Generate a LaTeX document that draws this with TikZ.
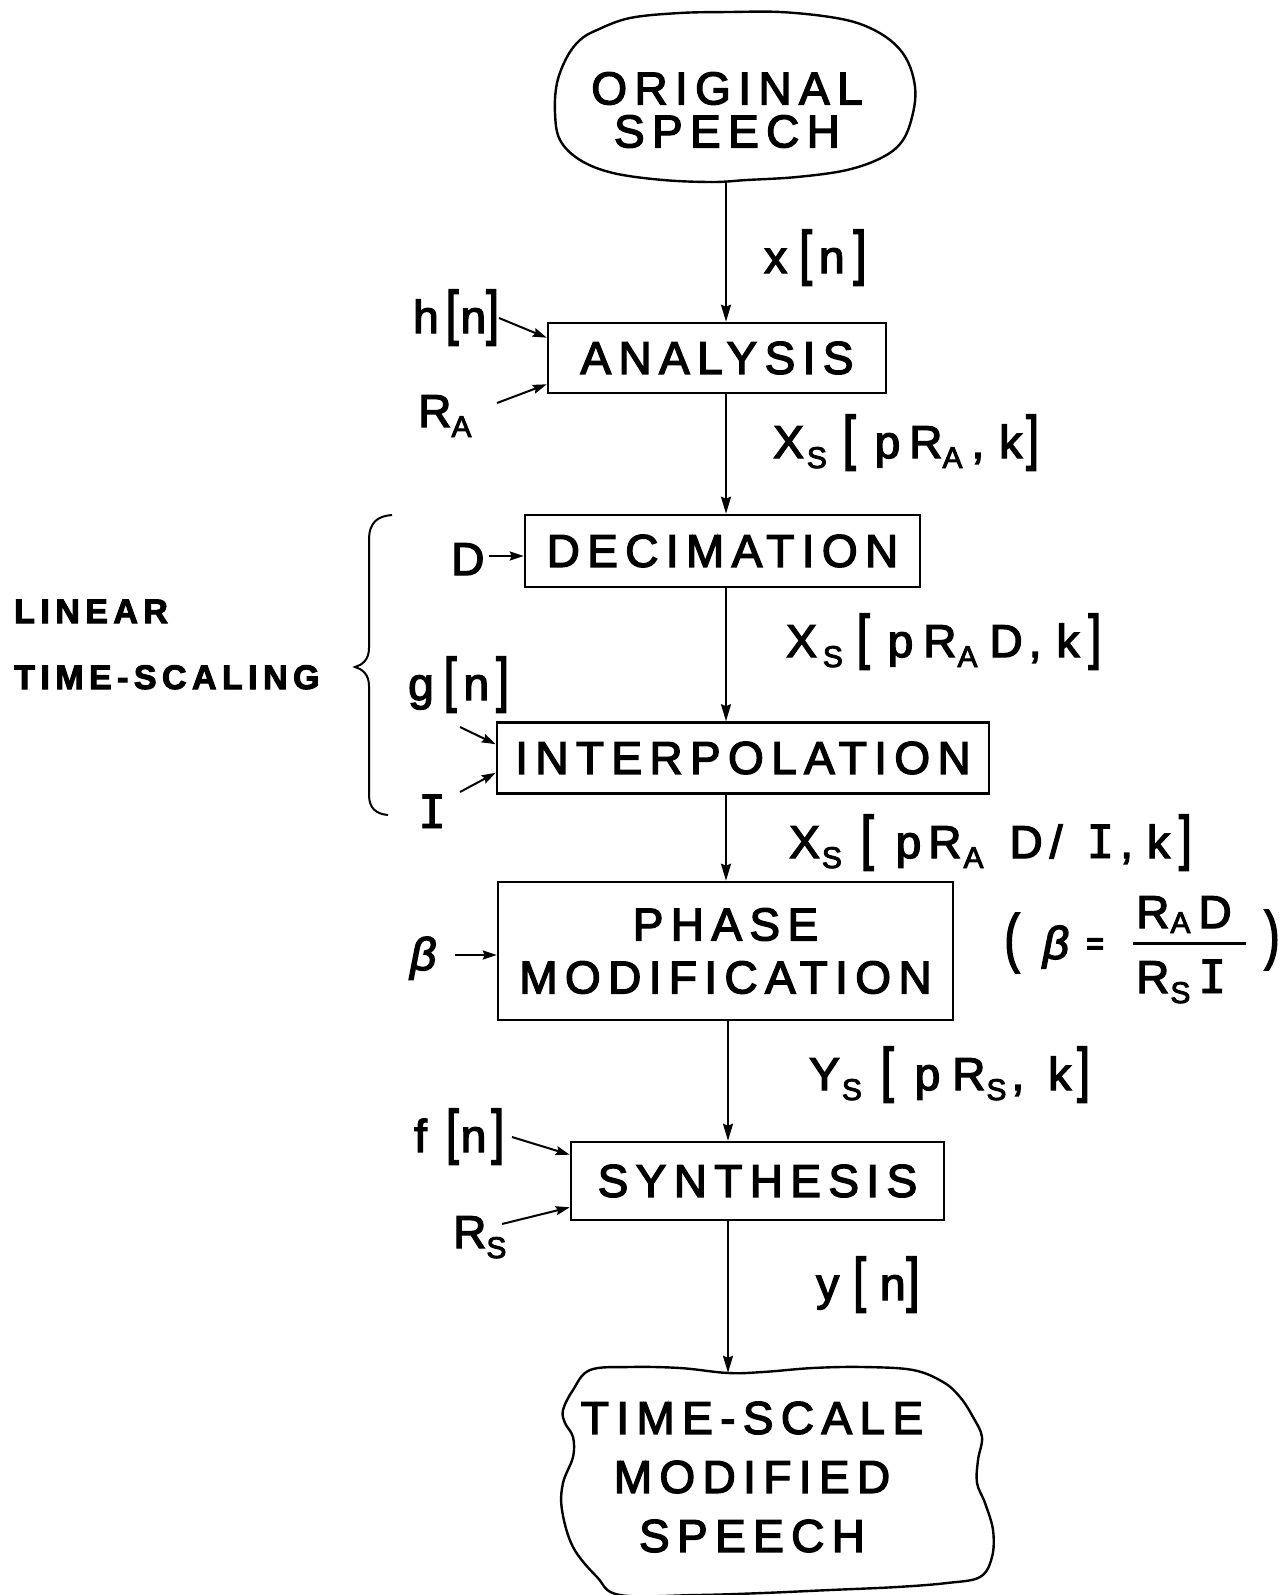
\documentclass[tikz,border=0pt]{standalone}
\usepackage{graphicx}
\usepackage{fontspec}
\setmainfont{Liberation Sans}[LetterSpace=16, FakeBold=3]
\newfontfamily\labfont{Liberation Sans}[FakeBold=3]
\newfontfamily\monoI{DejaVu Sans Mono}[FakeBold=2]
\usetikzlibrary{arrows.meta,calc}

% tall brackets, subscripts, gaps and the serifed letter I
\newcommand\lbk{\scalebox{1}[1.3]{[}}
\newcommand\rbk{\scalebox{1}[1.3]{]}}
\newcommand\sbs[2][10pt]{\raisebox{-#1}{\fontsize{30}{30}\selectfont #2}}
\newcommand\gap[1]{\hspace{#1pt}}
\newcommand\Ii{{\monoI I}}
\newcommand\bigfont{\fontsize{46}{52}\selectfont}
\newcommand\labsize{\labfont\fontsize{46}{52}\selectfont}

\tikzset{
  box/.style={draw, line width=2.6pt, rectangle, inner sep=0pt, font=\bigfont},
  lbl/.style={inner sep=0pt, anchor=base west, font=\labsize},
  flow/.style={line width=2pt, -{Stealth[length=17pt,width=10pt,inset=2pt]}},
  side/.style={line width=2pt, -{Stealth[length=14pt,width=9pt,inset=2pt]}},
  blob/.style={line width=2.4pt, line join=round},
  sidetext/.style={anchor=base west, inner sep=0pt, font=\fontsize{34}{34}\selectfont\bfseries},
}

\begin{document}
\begin{tikzpicture}[x=1pt,y=-1pt]
\fill[white] (0,0) rectangle (1285,1595);
\useasboundingbox (0,0) rectangle (1285,1595);

% terminal outlines
\draw[blob] plot[smooth cycle, tension=0.6] coordinates {
  (580,40) (597,30) (630,18) (680,13) (730,12) (780,12) (830,17) (863,25)
  (890,40) (907,60) (915,87) (913,113) (903,140) (883,157) (847,170)
  (797,177) (747,180) (713,182) (663,180) (613,173) (580,160) (560,140)
  (555,113) (557,83) (567,57)};
\draw[blob] plot[smooth cycle, tension=0.6] coordinates {
  (590,1370) (630,1367) (680,1368) (728,1373) (763,1372) (813,1368) (863,1367)
  (913,1370) (943,1382) (960,1397) (973,1417) (982,1437) (978,1460) (977,1483)
  (985,1503) (993,1530) (992,1557) (980,1577) (947,1583) (897,1587) (830,1590)
  (763,1593) (697,1595) (620,1595) (597,1577) (573,1547) (562,1510) (563,1483)
  (573,1457) (573,1437) (565,1423) (563,1410) (573,1390)};

\node[inner sep=0pt, minimum height=146pt, align=center, font=\fontsize{46}{43}\selectfont] (orig) at (727,110) {ORIGINAL\\SPEECH};
\node[inner sep=0pt, minimum height=208pt, align=center, font=\fontsize{46}{59}\selectfont] (outb) at (752,1477) {TIME-SCALE\\MODIFIED\\SPEECH};

% processing stages
\node[box, minimum width=338pt, minimum height=70pt] (ana) at (717,358) {ANALYSIS};
\node[box, minimum width=395pt, minimum height=72pt] (dec) at (722.5,551) {DECIMATION};
\node[box, minimum width=492pt, minimum height=71pt] (intp) at (743,758) {INTERPOLATION};
\node[box, minimum width=455pt, minimum height=138pt, align=center, font=\fontsize{46}{53}\selectfont] (phase) at (725.5,951) {PHASE\\MODIFICATION};
\node[box, minimum width=373pt, minimum height=78pt] (synth) at (757.5,1181) {SYNTHESIS};

% main signal path
\coordinate (colA) at (726,0);
\coordinate (colB) at (728,0);
\draw[flow] (orig.south -| colA) -- (ana.north -| colA);
\draw[flow] (ana.south -| colA) -- (dec.north -| colA);
\draw[flow] (dec.south -| colA) -- (intp.north -| colA);
\draw[flow] (intp.south -| colA) -- (phase.north -| colA);
\draw[flow] (phase.south -| colB) -- (synth.north -| colB);
\draw[flow] (synth.south -| colB) -- (outb.north -| colB);

% signal labels
\node[lbl] (xn) at (764,273) {x\gap{12}\lbk\gap{7}n\gap{9}\rbk};
\node[lbl] (xs1) at (773,458) {X\gap{3}\sbs{S}\gap{16}\lbk\gap{19}p\gap{9}R\sbs{A}\gap{9},\gap{15}k\gap{4}\rbk};
\node[lbl] (xs2) at (786,657) {X\gap{6}\sbs{S}\gap{14}\lbk\gap{18}p\gap{10}R\gap{1}\sbs{A}\gap{12}D\gap{6},\gap{15}k\gap{9}\rbk};
\node[lbl] (xs3) at (789,858) {X\gap{2}\sbs{S}\gap{19}\lbk\gap{22}p\gap{7}R\gap{2}\sbs{A}\gap{26}D\gap{7}/\gap{24}\Ii\gap{6},\gap{14}k\gap{9}\rbk};
\node[lbl] (ys) at (809,1090) {Y\gap{2}\sbs{S}\gap{19}\lbk\gap{21}p\gap{12}R\gap{1}\sbs{S}\gap{5},\gap{24}k\gap{6}\rbk};
\node[lbl] (yn) at (816,1300) {y\gap{14}\lbk\gap{14}n\gap{1}\rbk};

% parameter inputs
\node[lbl] (hn) at (413,333) {h\gap{7}\lbk\gap{2}n\rbk};
\node[lbl] (ra) at (418,427) {R\sbs{A}};
\node[lbl] (dd) at (451,575) {D};
\node[lbl] (gn) at (408,700) {g\gap{10}\lbk\gap{7}n\gap{7}\rbk};
\node[lbl] (ii) at (418,828) {\Ii};
\node[lbl] (bb) at (410,970) {\itshape β};
\node[lbl] (fn) at (414,1152) {f\gap{19}\lbk\gap{2}n\gap{5}\rbk};
\node[lbl] (rs) at (453,1248) {R\sbs{S}};

\coordinate (hT) at (499,318);
\coordinate (raT) at (497,403);
\coordinate (dT) at (489,556);
\coordinate (gT) at (460,727);
\coordinate (iT) at (460,792);
\coordinate (bT) at (455,955);
\coordinate (fT) at (512,1137);
\coordinate (rsT) at (502,1224);
\draw[side] (hT) -- ([yshift=-16pt]ana.north west);
\draw[side] (raT) -- ([yshift=10pt]ana.south west);
\draw[side] (dT) -- (dT -| dec.west);
\draw[side] (gT) -- ([yshift=-23pt]intp.north west);
\draw[side] (iT) -- ([yshift=22pt]intp.south west);
\draw[side] (bT) -- (bT -| phase.west);
\draw[side] (fT) -- ([yshift=-14pt]synth.north west);
\draw[side] (rsT) -- ([yshift=14pt]synth.south west);

% bracket grouping the linear time-scaling stages
\draw[line width=2pt] (392,515) .. controls (378,516) and (369,522) .. (369,540)
  -- (369,648) .. controls (369,660) and (362,665) .. (355,667)
  .. controls (362,669) and (369,674) .. (369,686)
  -- (369,795) .. controls (369,808) and (376,814) .. (388,815);
\node[sidetext] (lin1) at (14,623) {LINEAR};
\node[sidetext] (lin2) at (14,689) {TIME-SCALING};

% definition of beta
\node[inner sep=0pt, font=\labsize] (lpar) at (1012,943) {\scalebox{1}[1.4]{(}};
\node[inner sep=0pt, font=\labsize] (fb) at (1056,947) {\itshape β};
\node[inner sep=0pt, font=\labfont\fontsize{30}{30}\selectfont\bfseries] (feq) at (1095,946) {=};
\node[lbl] (fnum) at (1136,928) {R\gap{1}\sbs[5pt]{A}\gap{8}D};
\node[lbl] (fden) at (1136,993) {R\gap{1}\sbs[10pt]{S}\gap{8}\Ii};
\draw[line width=3pt] (1133,943) -- (1246,943);
\node[inner sep=0pt, font=\labsize] (rpar) at (1272,940) {\scalebox{1}[1.4]{)}};
\end{tikzpicture}
\end{document}
